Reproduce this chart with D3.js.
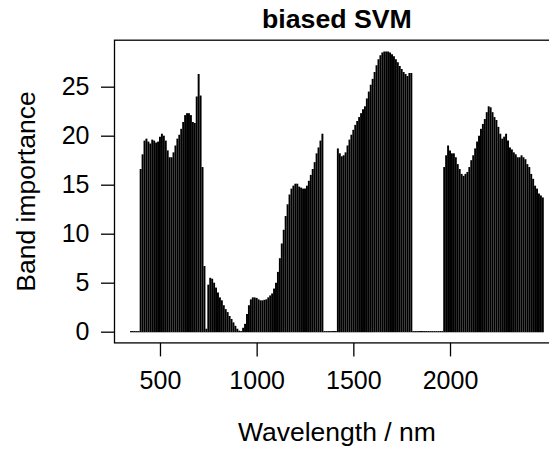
<!DOCTYPE html>
<html>
<head>
<meta charset="utf-8">
<script src="https://cdn.jsdelivr.net/npm/d3@7"></script>
<style>
  body { margin: 0; background: #fff; }
  svg text { font-family: "Liberation Sans", Arial, Helvetica, sans-serif; fill: #000; }
</style>
</head>
<body>
<div id="chart"></div>
<script>
// band centres (nm) and importance, 10 nm steps
const wavelengths = [
    350, 360, 370, 380, 390, 400, 410, 420, 430, 440,
    450, 460, 470, 480, 490, 500, 510, 520, 530, 540,
    550, 560, 570, 580, 590, 600, 610, 620, 630, 640,
    650, 660, 670, 680, 690, 700, 710, 720, 730, 740,
    750, 760, 770, 780, 790, 800, 810, 820, 830, 840,
    850, 860, 870, 880, 890, 900, 910, 920, 930, 940,
    950, 960, 970, 980, 990, 1000, 1010, 1020, 1030, 1040,
    1050, 1060, 1070, 1080, 1090, 1100, 1110, 1120, 1130, 1140,
    1150, 1160, 1170, 1180, 1190, 1200, 1210, 1220, 1230, 1240,
    1250, 1260, 1270, 1280, 1290, 1300, 1310, 1320, 1330, 1340,
    1350, 1360, 1370, 1380, 1390, 1400, 1410, 1420, 1430, 1440,
    1450, 1460, 1470, 1480, 1490, 1500, 1510, 1520, 1530, 1540,
    1550, 1560, 1570, 1580, 1590, 1600, 1610, 1620, 1630, 1640,
    1650, 1660, 1670, 1680, 1690, 1700, 1710, 1720, 1730, 1740,
    1750, 1760, 1770, 1780, 1790, 1800, 1810, 1820, 1830, 1840,
    1850, 1860, 1870, 1880, 1890, 1900, 1910, 1920, 1930, 1940,
    1950, 1960, 1970, 1980, 1990, 2000, 2010, 2020, 2030, 2040,
    2050, 2060, 2070, 2080, 2090, 2100, 2110, 2120, 2130, 2140,
    2150, 2160, 2170, 2180, 2190, 2200, 2210, 2220, 2230, 2240,
    2250, 2260, 2270, 2280, 2290, 2300, 2310, 2320, 2330, 2340,
    2350, 2360, 2370, 2380, 2390, 2400, 2410, 2420, 2430, 2440,
    2450, 2460, 2470, 2480
];

const importance = [
    0, 0, 0, 0, 0, 16.6, 18.1, 19.5, 19.7, 19.4,
    19.2, 19.6, 19.5, 19.3, 19.4, 19.9, 20.2, 20.0, 19.5, 18.5,
    17.8, 17.8, 18.3, 19.0, 19.7, 20.1, 20.7, 21.4, 22.1, 22.3,
    22.3, 22.1, 21.4, 21.3, 24.0, 26.3, 24.1, 16.8, 6.7, 0.3,
    4.8, 5.5, 5.4, 5.0, 4.5, 4.0, 3.5, 3.2, 2.7, 2.3,
    2.0, 1.6, 1.3, 0.95, 0.6, 0.3, 0.1, 0, 0.4, 0.8,
    1.8, 2.7, 3.3, 3.5, 3.5, 3.45, 3.3, 3.2, 3.2, 3.25,
    3.3, 3.5, 3.7, 3.9, 4.4, 5.0, 6.1, 7.5, 9.0, 10.4,
    11.8, 13.0, 14.0, 14.6, 14.9, 15.1, 15.1, 14.8, 14.7, 14.6,
    14.6, 14.9, 15.4, 16.0, 16.6, 17.3, 18.2, 18.8, 19.5, 20.2,
    0, 0, 0, 0, 0, 0, 0, 18.7, 18.2, 17.9,
    18.0, 18.3, 19.0, 19.6, 20.1, 20.6, 21.1, 21.5, 21.9, 22.3,
    22.7, 23.0, 23.8, 24.5, 25.2, 25.8, 26.5, 27.2, 27.8, 28.2,
    28.5, 28.6, 28.6, 28.6, 28.5, 28.3, 28.1, 27.8, 27.5, 27.1,
    26.8, 26.5, 26.3, 26.1, 26.4, 26.4, 0, 0, 0, 0,
    0, 0, 0, 0, 0, 0, 0, 0, 0, 0,
    0, 0, 16.8, 18.0, 19.0, 18.5, 18.2, 18.2, 17.8, 17.1,
    16.6, 16.1, 15.9, 16.1, 16.3, 16.8, 17.5, 18.0, 18.7, 19.4,
    20.0, 20.7, 21.2, 21.7, 22.4, 23.0, 22.9, 22.4, 21.9, 21.6,
    20.9, 20.2, 19.7, 19.9, 20.2, 19.5, 18.8, 18.6, 18.3, 18.1,
    17.8, 17.8, 18.0, 17.8, 17.6, 17.1, 16.8, 16.1, 15.6, 14.9,
    14.6, 14.1, 13.9, 13.7
];

const xTicks = [500, 1000, 1500, 2000];
const yTicks = [0, 5, 10, 15, 20, 25];
const title = "biased SVM";
const xLabel = "Wavelength / nm";
const yLabel = "Band importance";

const W = 549, H = 450;
// plot region (the right edge runs past the picture, as in the original)
const plot = { left: 114.5, right: 559.3, top: 40.2, bottom: 342.9 };
const tickFont = 25;
const labelFont = 26.5;

const data = wavelengths.map((w, i) => ({ w: w, v: importance[i] }));

const svg = d3.select("#chart").append("svg")
    .attr("width", W)
    .attr("height", H);

// R-style 4% padding on both axes
const xExt = d3.extent(wavelengths);
const xPad = (xExt[1] - xExt[0]) * 0.04;
const xScale = d3.scaleLinear()
    .domain([xExt[0] - xPad, xExt[1] + xPad])
    .range([plot.left, plot.right]);

const yMax = d3.max(importance);
const yScale = d3.scaleLinear()
    .domain([-yMax * 0.04, yMax * 1.04])
    .range([plot.bottom, plot.top]);

const y0 = yScale(0);

// vertical "h" lines
svg.append("g")
    .selectAll("line")
    .data(data)
    .enter().append("line")
    .attr("x1", d => xScale(d.w))
    .attr("x2", d => xScale(d.w))
    .attr("y1", y0 + 0.6)
    .attr("y2", d => Math.min(yScale(d.v), y0 - 0.6))
    .attr("stroke", "#000")
    .attr("stroke-width", 1.95);

// box
svg.append("rect")
    .attr("x", plot.left)
    .attr("y", plot.top)
    .attr("width", plot.right - plot.left)
    .attr("height", plot.bottom - plot.top)
    .attr("fill", "none")
    .attr("stroke", "#000")
    .attr("stroke-width", 1.3);

const xAxis = svg.append("g")
    .attr("transform", `translate(0, ${plot.bottom})`)
    .call(d3.axisBottom(xScale).tickValues(xTicks).tickSize(13.5).tickPadding(15).tickFormat(d3.format("d")));

const yAxis = svg.append("g")
    .attr("transform", `translate(${plot.left}, 0)`)
    .call(d3.axisLeft(yScale).tickValues(yTicks).tickSize(13.5).tickPadding(11.5));

[xAxis, yAxis].forEach(ax => {
    ax.select(".domain").remove();
    ax.selectAll(".tick line").attr("stroke", "#000").attr("stroke-width", 1.3);
    ax.selectAll(".tick text")
        .attr("font-family", "Liberation Sans, Arial, sans-serif")
        .attr("font-size", tickFont + "px")
        .attr("fill", "#000");
});

const cx = (plot.left + plot.right) / 2;
const cy = (plot.top + plot.bottom) / 2;

svg.append("text")
    .attr("x", cx)
    .attr("y", 28.3)
    .attr("text-anchor", "middle")
    .attr("font-weight", "bold")
    .attr("font-size", "26.7px")
    .text(title);

svg.append("text")
    .attr("x", cx)
    .attr("y", 441)
    .attr("text-anchor", "middle")
    .attr("font-size", labelFont + "px")
    .text(xLabel);

svg.append("text")
    .attr("transform", `translate(35, ${cy}) rotate(-90)`)
    .attr("text-anchor", "middle")
    .attr("font-size", labelFont + "px")
    .text(yLabel);
</script>
</body>
</html>
